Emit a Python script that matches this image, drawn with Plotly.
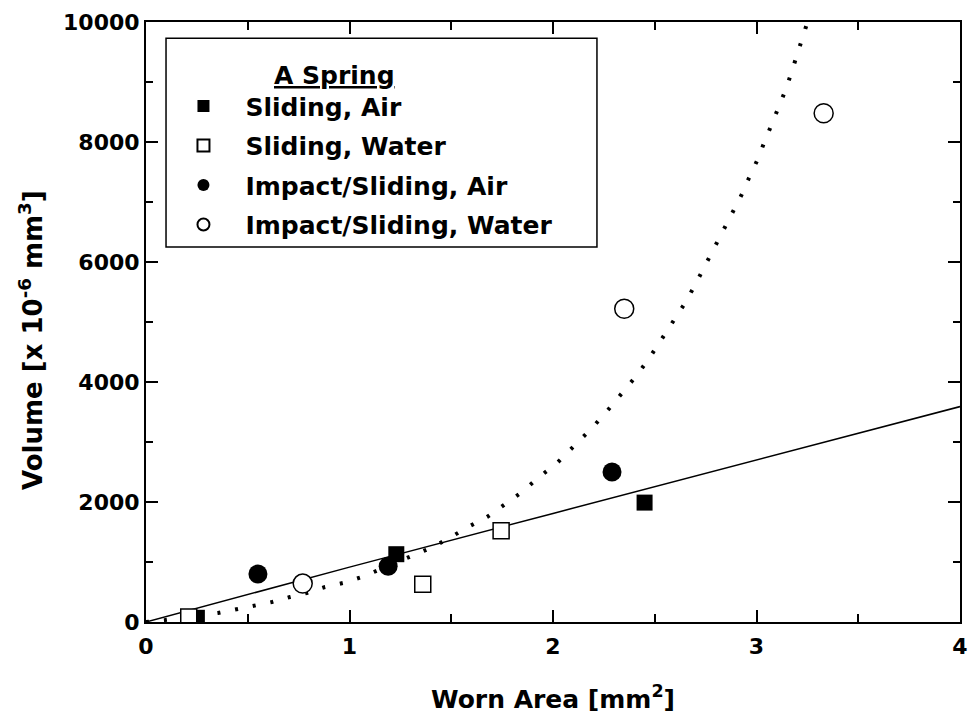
import plotly.graph_objects as go

# Measured data
sa_x = [0.25, 1.23, 2.45]
sa_y = [70, 1130, 1990]
sw_x = [0.21, 1.36, 1.745]
sw_y = [85, 630, 1520]
ia_x = [0.55, 1.19, 2.29]
ia_y = [800, 930, 2500]
iw_x = [0.77, 2.35, 3.33]
iw_y = [640, 5220, 8480]

# Trend lines
lin_x = [0, 1, 2, 3, 4]
lin_y = [0, 915, 1810, 2700, 3590]

dot_x = [0, 0.093, 0.354, 0.447, 0.526, 0.619, 0.708, 0.79, 0.88, 0.968, 1.061,
         1.312, 1.41, 1.499, 1.582, 1.676, 1.759, 1.848, 1.926, 2.02, 2.108,
         2.192, 2.27, 2.339, 2.413, 2.477, 2.535, 2.59, 2.649, 2.698, 2.924,
         2.963, 3.002, 3.037, 3.076, 3.106, 3.145, 3.174, 3.204, 3.233, 3.26]
dot_y = [0, 33, 150, 217, 283, 333, 417, 483, 583, 650, 750,
         1117, 1250, 1417, 1583, 1750, 1950, 2167, 2400, 2650, 2950,
         3233, 3533, 3817, 4117, 4417, 4717, 5017, 5317, 5617, 7100,
         7400, 7683, 7983, 8300, 8583, 8883, 9183, 9483, 9783, 10100]

x_ticks = [0, 1, 2, 3, 4]
y_ticks = [0, 2000, 4000, 6000, 8000, 10000]

FONT = "DejaVu Sans"

fig = go.Figure()
fig.add_trace(go.Scatter(x=lin_x, y=lin_y, mode="lines", showlegend=False,
                         line=dict(color="black", width=1.5)))
fig.add_trace(go.Scatter(x=dot_x, y=dot_y, mode="lines", showlegend=False,
                         line=dict(color="black", width=4, dash="3px,15px")))

fig.add_trace(go.Scatter(x=sa_x, y=sa_y, mode="markers", name="Sliding, Air",
                         legendgroup="a",
                         marker=dict(symbol="square", size=16, color="black")))
fig.add_trace(go.Scatter(x=sw_x, y=sw_y, mode="markers", name="Sliding, Water",
                         legendgroup="b",
                         marker=dict(symbol="square", size=16, color="white",
                                     line=dict(color="black", width=1.5))))
fig.add_trace(go.Scatter(x=ia_x, y=ia_y, mode="markers", name="Impact/Sliding, Air",
                         legendgroup="c",
                         marker=dict(symbol="circle", size=19, color="black")))
fig.add_trace(go.Scatter(x=iw_x, y=iw_y, mode="markers", name="Impact/Sliding, Water",
                         legendgroup="d",
                         marker=dict(symbol="circle", size=19, color="white",
                                     line=dict(color="black", width=1.5))))

axis_common = dict(
    showgrid=False, zeroline=False, showline=True, linecolor="black", linewidth=2,
    mirror="ticks", ticks="inside", ticklen=12, tickwidth=2, tickcolor="black",
    automargin=False,
    tickfont=dict(family=FONT, size=22, color="black", weight="bold"),
)

fig.update_xaxes(range=[0, 4], tickvals=x_ticks, ticktext=[str(v) for v in x_ticks],
                 ticklabelstandoff=4,
                 minor=dict(dtick=0.5, ticks="inside", ticklen=8, tickwidth=2, tickcolor="black"),
                 title=dict(text="Worn Area [mm<sup>2</sup>]", standoff=32,
                            font=dict(family=FONT, size=25, color="black", weight="bold")),
                 **axis_common)
fig.update_yaxes(range=[0, 10000], tickvals=y_ticks, ticktext=[str(v) for v in y_ticks],
                 minor=dict(dtick=1000, ticks="inside", ticklen=7, tickwidth=2, tickcolor="black"),
                 **axis_common)

fig.update_layout(
    width=968, height=722,
    margin=dict(l=146, r=8, t=22, b=100),
    plot_bgcolor="white", paper_bgcolor="white",
    legend=dict(x=0.019, y=0.898, xanchor="left", yanchor="top",
                bgcolor="rgba(0,0,0,0)", borderwidth=0,
                itemsizing="constant", itemwidth=74, tracegroupgap=4,
                font=dict(family=FONT, size=25, color="black", weight="bold")),
    shapes=[dict(type="rect", xref="paper", yref="paper",
                 x0=0.0246, x1=0.554, y0=0.625, y1=0.973,
                 line=dict(color="black", width=1.5), fillcolor="rgba(0,0,0,0)")],
    annotations=[
        dict(text="<u>A Spring</u>", xref="paper", yref="paper",
             x=0.232, y=0.91, xanchor="center", yanchor="middle", showarrow=False,
             font=dict(family=FONT, size=25, color="black", weight="bold")),
        dict(text="Volume [x 10<sup>-6</sup> mm<sup>3</sup>]", xref="paper", yref="paper",
             x=0, y=0.47, xshift=-115, xanchor="center", yanchor="middle",
             textangle=-90, showarrow=False,
             font=dict(family=FONT, size=26, color="black", weight="bold")),
    ],
)

fig.write_html(
    "out.html",
    config={"displayModeBar": False},
    post_script="document.body.style.margin='0';document.body.style.overflow='hidden';",
)
